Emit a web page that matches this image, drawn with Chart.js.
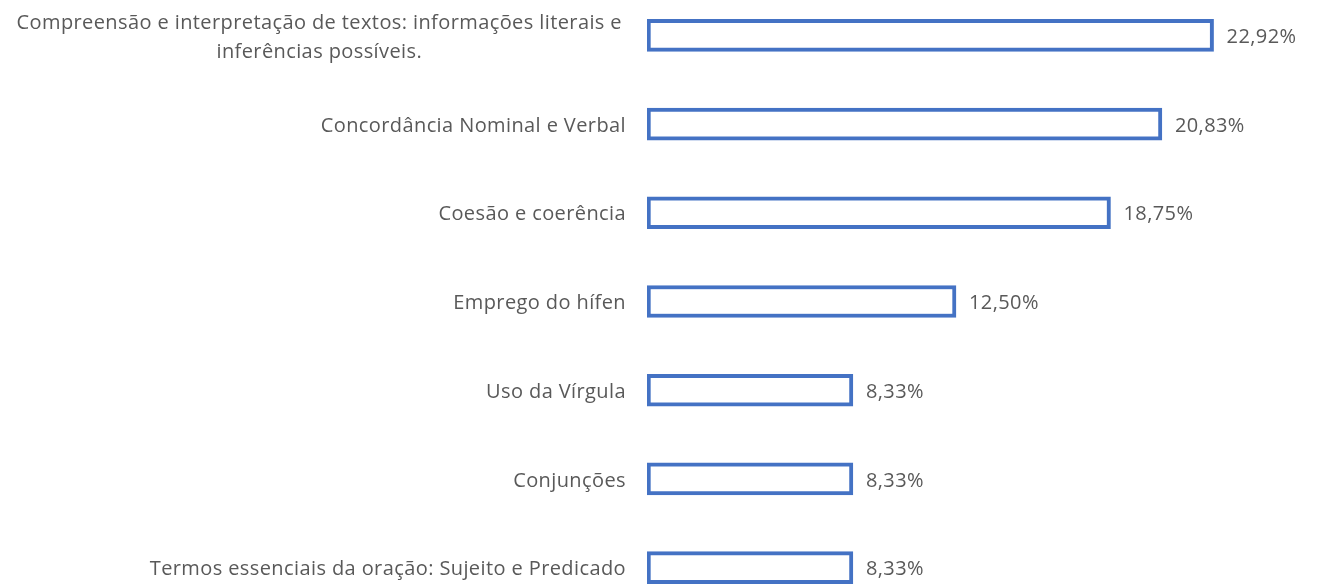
<!DOCTYPE html>
<html>
<head>
<meta charset="utf-8">
<script src="https://cdn.jsdelivr.net/npm/chart.js@4/dist/chart.umd.min.js"></script>
<style>
  html, body { margin: 0; padding: 0; background: #ffffff; overflow: hidden; }
  body { width: 1317px; height: 584px; position: relative; }
  #wrap { position: absolute; left: 0; top: -9px; width: 1317px; height: 621px; }
</style>
</head>
<body>
<div id="wrap"><canvas id="c"></canvas></div>
<script>
const categories = [
  ['Compreensão e interpretação de textos: informações literais e', 'inferências possíveis.'],
  'Concordância Nominal e Verbal',
  'Coesão e coerência',
  'Emprego do hífen',
  'Uso da Vírgula',
  'Conjunções',
  'Termos essenciais da oração: Sujeito e Predicado'
];
const values = [22.92, 20.83, 18.75, 12.50, 8.33, 8.33, 8.33];
const valueLabels = ['22,92%', '20,83%', '18,75%', '12,50%', '8,33%', '8,33%', '8,33%'];

const FONT = '20px "Open Sans"';
const TEXT_COLOR = '#595959';

const labelPlugin = {
  id: 'labelPlugin',
  afterDatasetsDraw(chart) {
    const ctx = chart.ctx;
    const yScale = chart.scales.y;
    const meta = chart.getDatasetMeta(0);
    ctx.save();
    ctx.font = FONT;
    ctx.fillStyle = TEXT_COLOR;
    ctx.textBaseline = 'middle';
    try { ctx.letterSpacing = '0.4px'; } catch (e) {}
    const rightEdge = 626;
    const lineH = 29;
    const dy = 2;
    chart.data.labels.forEach((lab, i) => {
      const y = yScale.getPixelForValue(i) + dy;
      if (Array.isArray(lab)) {
        const widths = lab.map(l => ctx.measureText(l).width);
        const maxW = Math.max(...widths);
        const cx = rightEdge - 4 - maxW / 2;
        ctx.textAlign = 'center';
        const y0 = y - (lab.length - 1) * lineH / 2;
        lab.forEach((l, k) => ctx.fillText(l, cx, y0 + k * lineH));
      } else {
        ctx.textAlign = 'right';
        ctx.fillText(lab, rightEdge, y);
      }
    });
    ctx.textAlign = 'left';
    meta.data.forEach((bar, i) => {
      ctx.fillText(valueLabels[i], bar.x + 13, bar.y + dy);
    });
    ctx.restore();
  }
};

new Chart(document.getElementById('c'), {
  type: 'bar',
  data: {
    labels: categories,
    datasets: [{
      data: values,
      backgroundColor: '#ffffff',
      borderColor: '#4472C4',
      borderWidth: 4,
      borderSkipped: false,
      barThickness: 32
    }]
  },
  options: {
    indexAxis: 'y',
    responsive: true,
    maintainAspectRatio: false,
    animation: false,
    layout: { padding: { left: 647, right: 52, top: 0, bottom: 0 } },
    plugins: { legend: { display: false }, tooltip: { enabled: false } },
    scales: {
      x: { display: false, min: 0, max: 25 },
      y: { display: false }
    }
  },
  plugins: [labelPlugin]
});
</script>
</body>
</html>
